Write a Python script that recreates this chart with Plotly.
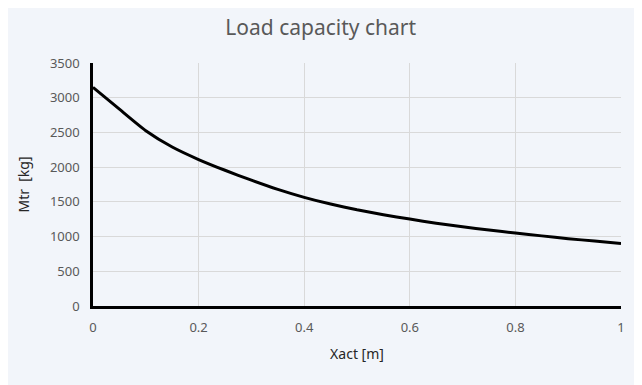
import plotly.graph_objects as go

xact = [0, 0.05, 0.1, 0.15, 0.2, 0.25, 0.3, 0.35, 0.4, 0.45, 0.5,
        0.55, 0.6, 0.65, 0.7, 0.75, 0.8, 0.85, 0.9, 0.95, 1.0]
mtr = [3150, 2835, 2525, 2290, 2110, 1955, 1812, 1680, 1565, 1468, 1385,
       1315, 1252, 1193, 1142, 1094, 1050, 1010, 970, 935, 900]

bg = "#F2F5FA"
font_family = "Noto Sans, Open Sans, sans-serif"

fig = go.Figure()
fig.add_trace(go.Scatter(x=xact, y=mtr, mode="lines",
                         line=dict(color="black", width=3, shape="spline", smoothing=0.5),
                         hoverinfo="skip", showlegend=False))

fig.update_layout(
    width=642, height=385,
    paper_bgcolor=bg, plot_bgcolor=bg,
    margin=dict(l=85, r=29, t=55, b=87),
    title=dict(text="Load capacity chart", x=0.487, xanchor="center", y=0.95, yanchor="middle",
               font=dict(family=font_family, size=21, color="#595959")),
    font=dict(family=font_family),
    xaxis=dict(range=[0, 1], dtick=0.2, tick0=0, showgrid=True, gridcolor="#D9D9D9", gridwidth=1,
               zeroline=False, showline=True, linecolor="black", linewidth=2.5,
               ticks="", tickfont=dict(size=13, color="#595959"), ticklabelstandoff=8,
               title=dict(text="Xact [m]", font=dict(size=14, color="#262626"), standoff=14)),
    yaxis=dict(range=[0, 3500], dtick=500, tick0=0, showgrid=True, gridcolor="#D9D9D9", gridwidth=1,
               zeroline=False, showline=True, linecolor="black", linewidth=2.5,
               ticks="", tickfont=dict(size=13, color="#595959"), ticklabelstandoff=8,
               title=dict(text="Mtr  [kg]", font=dict(size=14, color="#262626"), standoff=18)),
)

fig.write_html("out.html")
